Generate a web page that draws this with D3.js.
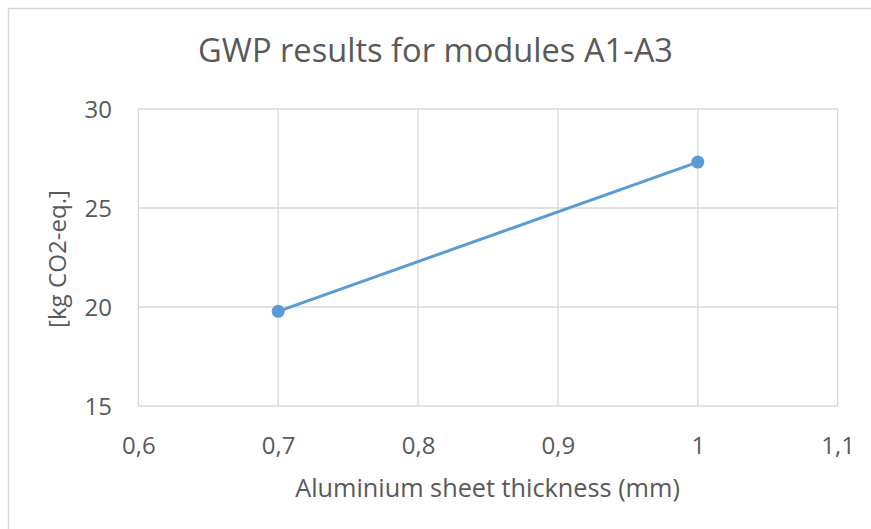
<!DOCTYPE html>
<html>
<head>
<meta charset="utf-8">
<script src="https://cdn.jsdelivr.net/npm/d3@7"></script>
<style>
  html, body { margin: 0; padding: 0; background: #fff; }
  svg { display: block; }
  text { font-family: "Open Sans", "Liberation Sans", sans-serif; fill: #595959; }
</style>
</head>
<body>
<svg id="chart" width="871" height="529"></svg>
<script>
const thickness = [0.7, 1.0];
const gwp = [19.78, 27.32];
const xTicks = [0.6, 0.7, 0.8, 0.9, 1.0, 1.1];
const yTicks = [15, 20, 25, 30];
const titleText = "GWP results for modules A1-A3";
const xTitle = "Aluminium sheet thickness (mm)";
const yTitle = "[kg CO2-eq.]";

const svg = d3.select("#chart");
const W = 871, H = 529;
const plot = { left: 138.3, right: 837.7, top: 109, bottom: 406 };

// chart frame
svg.append("rect").attr("x", 8.5).attr("y", 8.5).attr("width", 1000).attr("height", 1000)
  .attr("fill", "#fff").attr("stroke", "#d9d9d9").attr("stroke-width", 1.5);

const x = d3.scaleLinear().domain([0.6, 1.1]).range([plot.left, plot.right]);
const y = d3.scaleLinear().domain([15, 30]).range([plot.bottom, plot.top]);

const fmt = d => String(+d.toFixed(1)).replace(".", ",");

// gridlines
const g = svg.append("g");
g.selectAll("line.v").data(xTicks).join("line")
  .attr("x1", d => x(d)).attr("x2", d => x(d))
  .attr("y1", plot.top).attr("y2", plot.bottom)
  .attr("stroke", "#d9d9d9").attr("stroke-width", 1.3);
g.selectAll("line.h").data(yTicks).join("line")
  .attr("x1", plot.left).attr("x2", plot.right)
  .attr("y1", d => y(d)).attr("y2", d => y(d))
  .attr("stroke", "#d9d9d9").attr("stroke-width", 1.3);

// axes labels using d3 axes
const xAxis = d3.axisBottom(x).tickValues(xTicks).tickFormat(fmt).tickSize(0).tickPadding(0);
const xg = svg.append("g").attr("transform", `translate(0,${plot.bottom})`).call(xAxis);
xg.select(".domain").remove();
xg.selectAll("text").attr("font-size", 24).attr("fill", "#595959")
  .attr("dy", null).attr("y", 48).style("font-family", '"Open Sans", sans-serif');

const yAxis = d3.axisLeft(y).tickValues(yTicks).tickFormat(fmt).tickSize(0).tickPadding(0);
const yg = svg.append("g").attr("transform", `translate(112,0)`).call(yAxis);
yg.select(".domain").remove();
yg.selectAll("text").attr("font-size", 24).attr("fill", "#595959")
  .attr("dy", "0.35em").attr("x", 0).style("font-family", '"Open Sans", sans-serif');

// line
const line = d3.line().x((d, i) => x(thickness[i])).y(d => y(d));
svg.append("path").datum(gwp).attr("d", line)
  .attr("fill", "none").attr("stroke", "#5b9bd5").attr("stroke-width", 3).attr("stroke-linecap", "round");
svg.selectAll("circle.pt").data(gwp).join("circle")
  .attr("cx", (d, i) => x(thickness[i])).attr("cy", d => y(d)).attr("r", 6.5)
  .attr("fill", "#5b9bd5");

// titles
function fit(sel, target) {
  const w = sel.node().getComputedTextLength();
  const fs = parseFloat(sel.attr("font-size"));
  sel.attr("font-size", fs * target / w);
}
const t = svg.append("text").attr("x", 435.5).attr("y", 62).attr("text-anchor", "middle")
  .attr("font-size", 30).text(titleText);
fit(t, 475);
const xt = svg.append("text").attr("x", 487.5).attr("y", 497).attr("text-anchor", "middle")
  .attr("font-size", 22).text(xTitle);
fit(xt, 385);
const yt = svg.append("text").attr("transform", "translate(66,259) rotate(-90)")
  .attr("text-anchor", "middle").attr("font-size", 22).text(yTitle);
fit(yt, 138);
</script>
</body>
</html>
